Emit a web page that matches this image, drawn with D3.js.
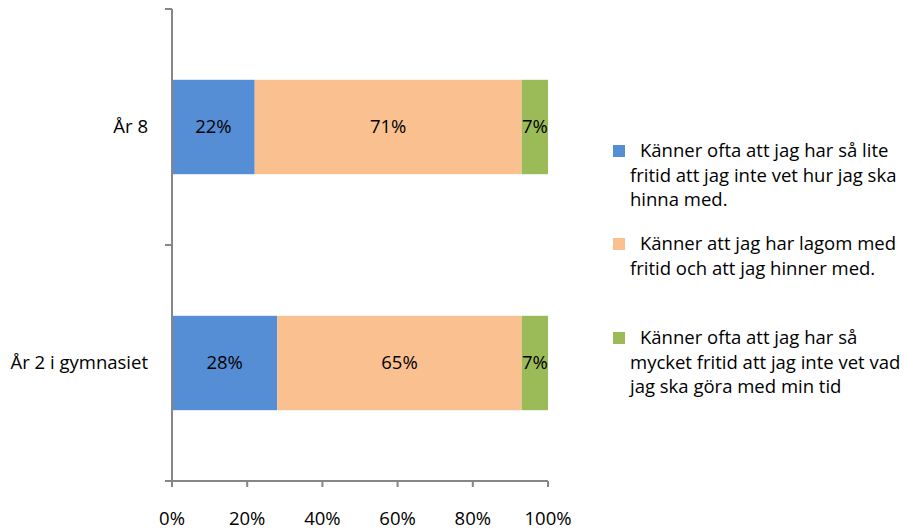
<!DOCTYPE html>
<html>
<head>
<meta charset="utf-8">
<script src="https://cdn.jsdelivr.net/npm/d3@7"></script>
<style>
	body { margin: 0; background: #fff; }
	text { font-family: "Open Sans", Lato, sans-serif; }
</style>
</head>
<body>
<svg width="907" height="529"></svg>
<script>
	var categories = ["År 8", "År 2 i gymnasiet"];
	var series = [
		{ name: ["Känner ofta att jag har så lite", "fritid att jag inte vet hur jag ska", "hinna med."], color: "#558ed5" },
		{ name: ["Känner att jag har lagom med", "fritid och att jag hinner med."], color: "#fac090" },
		{ name: ["Känner ofta att jag har så", "mycket fritid att jag inte vet vad", "jag ska göra med min tid"], color: "#9bbb59" }
	];
	var values = [
		[22, 71, 7],
		[28, 65, 7]
	];
	var xTicks = [0, 20, 40, 60, 80, 100];

	var svg = d3.select("svg");
	var pLeft = 172, pRight = 548, pTop = 9, pBottom = 481;
	var fs = 18.5;

	var x = d3.scaleLinear().domain([0, 100]).range([pLeft, pRight]);
	var y = d3.scaleBand().domain(categories).range([pTop, pBottom]).paddingInner(0.6).paddingOuter(0.3);
	var yb = d3.scaleBand().domain(categories).range([pTop, pBottom]);

	// stacked bars
	var rows = values.map(function(v, i) {
		var acc = 0;
		return v.map(function(d, j) {
			var seg = { cat: categories[i], s: j, x0: acc, x1: acc + d, v: d };
			acc += d;
			return seg;
		});
	});
	var segs = [].concat.apply([], rows);

	svg.selectAll("rect.bar").data(segs).enter().append("rect")
		.attr("class", "bar")
		.attr("x", function(d) { return x(d.x0); })
		.attr("y", function(d) { return y(d.cat); })
		.attr("width", function(d) { return x(d.x1) - x(d.x0); })
		.attr("height", y.bandwidth())
		.attr("fill", function(d) { return series[d.s].color; });

	svg.selectAll("text.lbl").data(segs).enter().append("text")
		.attr("class", "lbl")
		.attr("x", function(d) { return (x(d.x0) + x(d.x1)) / 2; })
		.attr("y", function(d) { return y(d.cat) + y.bandwidth() / 2; })
		.attr("dy", "0.35em")
		.attr("text-anchor", "middle")
		.attr("font-size", fs)
		.attr("fill", "#000")
		.text(function(d) { return d.v + "%"; });

	// axes
	var axisColor = "#868686";
	svg.append("line").attr("x1", pLeft).attr("x2", pLeft).attr("y1", pTop).attr("y2", pBottom)
		.attr("stroke", axisColor).attr("stroke-width", 2);
	svg.append("line").attr("x1", pLeft - 6).attr("x2", pRight).attr("y1", pBottom).attr("y2", pBottom)
		.attr("stroke", axisColor).attr("stroke-width", 2);

	var yTickPos = categories.map(function(c) { return yb(c); }).concat([pBottom]);
	svg.selectAll("line.yt").data(yTickPos).enter().append("line")
		.attr("x1", pLeft - 7).attr("x2", pLeft)
		.attr("y1", function(d) { return d; }).attr("y2", function(d) { return d; })
		.attr("stroke", axisColor).attr("stroke-width", 2);

	svg.selectAll("line.xt").data(xTicks).enter().append("line")
		.attr("x1", function(d) { return x(d); }).attr("x2", function(d) { return x(d); })
		.attr("y1", pBottom).attr("y2", pBottom + 6)
		.attr("stroke", axisColor).attr("stroke-width", 2);

	svg.selectAll("text.xl").data(xTicks).enter().append("text")
		.attr("x", function(d) { return x(d); })
		.attr("y", 525)
		.attr("text-anchor", "middle")
		.attr("font-size", fs)
		.text(function(d) { return d + "%"; });

	svg.selectAll("text.yl").data(categories).enter().append("text")
		.attr("x", 148)
		.attr("y", function(d) { return y(d) + y.bandwidth() / 2; })
		.attr("dy", "0.35em")
		.attr("text-anchor", "end")
		.attr("font-size", fs)
		.text(function(d) { return d; });

	// legend
	var legendY = [151, 244, 338];
	var lg = svg.selectAll("g.leg").data(series).enter().append("g")
		.attr("transform", function(d, i) { return "translate(613," + legendY[i] + ")"; });
	lg.append("rect").attr("x", 0).attr("y", -6).attr("width", 12).attr("height", 12)
		.attr("fill", function(d) { return d.color; });
	lg.each(function(d) {
		var t = d3.select(this).append("text").attr("font-size", fs).attr("fill", "#000");
		d.name.forEach(function(line, k) {
			t.append("tspan")
				.attr("x", k === 0 ? 27 : 17)
				.attr("y", k * 24.5)
				.attr("dy", "0.35em")
				.text(line);
		});
	});
</script>
</body>
</html>
